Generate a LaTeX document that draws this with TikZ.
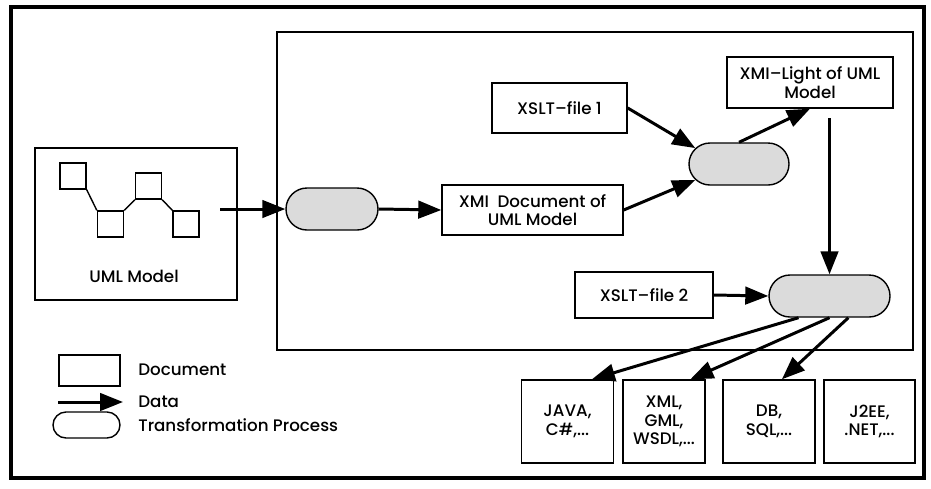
\documentclass[tikz,border=0pt]{standalone}
\usepackage{fontspec}
\setmainfont{Poppins}[UprightFont={* Medium}]
\usetikzlibrary{arrows.meta,shapes.misc}

\begin{document}
\begin{tikzpicture}[x=0.2mm,y=-0.2mm,
			font=\fontsize{9.5}{10.6}\selectfont,
			doc/.style={draw,line width=0.8pt,align=center,inner sep=0pt},
			proc/.style={draw,rounded rectangle,line width=0.8pt,fill=black!14,minimum height=8.4mm,inner sep=0pt},
			data/.style={line width=1.7pt,-{Triangle[length=4.6mm,width=3.5mm]}},
			sq/.style={draw,line width=0.8pt,minimum size=5.2mm,inner sep=0pt},
			key/.style={anchor=west,inner sep=0pt}]
			\useasboundingbox (0,0) rectangle (931,488);
			\draw[line width=1.8pt] (11,7) rectangle (924,478);
			\node[draw,line width=0.8pt,minimum width=127.2mm,minimum height=63.6mm] (pipe) at (595,191) {};

			\node[doc,minimum width=40.4mm,minimum height=30.4mm] (uml) at (136,224) {};
			\node (umllbl) at (134,276) {UML Model};
			\node[sq] (sqa) at (73,176) {};
			\node[sq] (sqb) at (110.5,224) {};
			\node[sq] (sqc) at (148.5,186) {};
			\node[sq] (sqd) at (186,224) {};
			\draw[line width=0.8pt] (sqa.south east) -- (sqb.north west);
			\draw[line width=0.8pt] (sqb.north east) -- (sqc.south west);
			\draw[line width=0.8pt] (sqc.south east) -- (sqd.north west);

			\node[proc,minimum width=18.4mm] (proca) at (332,209) {};
			\node[doc,minimum width=36.2mm,minimum height=10mm] (xmidoc) at (532.5,210) {XMI\ \ Document of\\UML Model};
			\node[doc,minimum width=27mm,minimum height=10mm] (xslta) at (559.5,108) {XSLT--file 1};
			\node[proc,minimum width=20mm] (procb) at (739,164) {};
			\node[doc,minimum width=33.2mm,minimum height=10.2mm] (light) at (810,82.5) {XMI--Light of UML\\Model};
			\node[proc,minimum width=24.2mm] (procc) at (829.5,296) {};
			\node[doc,minimum width=27.6mm,minimum height=9.2mm] (xsltb) at (644,295) {XSLT--file 2};

			\node[doc,minimum width=18.3mm,minimum height=16.6mm] (java) at (567.5,421.5) {JAVA,\\C\#,...};
			\node[doc,minimum width=16.4mm,minimum height=16.6mm] (xml) at (664,421.5) {XML,\\GML,\\WSDL,...};
			\node[doc,minimum width=18.4mm,minimum height=16.6mm] (db) at (769,421.5) {DB,\\SQL,...};
			\node[doc,minimum width=18.2mm,minimum height=16.6mm] (jee) at (869.5,421.5) {J2EE,\\.NET,...};

			\coordinate (umlout) at (220,209);
			\coordinate (lightout) at (829.5,118);
			\draw[data] (umlout) -- (proca.west);
			\draw[data] (proca.east) -- (xmidoc.west);
			\draw[data] (xslta.east) -- (procb.160);
			\draw[data] (xmidoc.east) -- (procb.200);
			\draw[data] (procb.north) -- (light.south);
			\draw[data] (lightout) -- (procc.north);
			\draw[data] (xsltb.east) -- (procc.west);
			\draw[data] (procc.215) -- (java.60);
			\draw[data] (procc.south) -- (xml.58);
			\draw[data] (procc.311) -- (db.73);

			\node[doc,minimum width=12.2mm,minimum height=6.2mm] (keydoc) at (89.5,370.5) {};
			\node[key] (keydoctxt) at (138,370) {Document};
			\coordinate (keyfrom) at (58,402);
			\coordinate (keyto) at (123,402);
			\draw[data] (keyfrom) -- (keyto);
			\node[key] (keydatatxt) at (138,402) {Data};
			\node[draw,rounded rectangle,line width=0.8pt,minimum width=13.4mm,minimum height=5.2mm,inner sep=0pt] (keyproc) at (86.5,425) {};
			\node[key] (keyproctxt) at (138,425) {Transformation Process};
			\end{tikzpicture}
\end{document}
